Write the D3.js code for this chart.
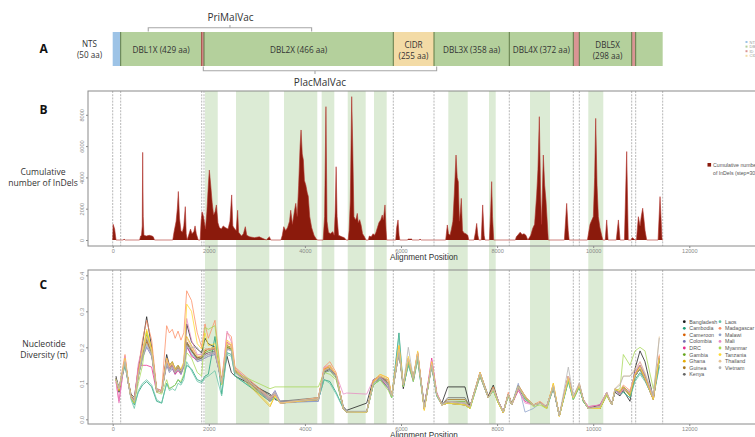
<!DOCTYPE html>
<html>
<head>
<meta charset="utf-8">
<script src="https://cdnjs.cloudflare.com/ajax/libs/d3/7.8.5/d3.min.js"></script>
<style>
body { margin: 0; background: #fff; }
text { font-family: "Liberation Sans", Arial, sans-serif; }
.cal { font-family: "Open Sans", "Noto Sans", sans-serif; }
</style>
</head>
<body>
<div id="chart"></div>
<script>
var width = 755, height = 437;

// domain map (alignment positions of the domain borders)
var domainBreaks = [0, 166, 1852, 1900, 5840, 6687, 8254, 9586, 9711, 10801, 10884, 11446];
var domainFill = ["#9dc3e6", "#b4d09c", "#d99594", "#b4d09c", "#f3dba6", "#b4d09c", "#b4d09c", "#d99594", "#b4d09c", "#d99594", "#b4d09c"];
var domainNames = ["DBL1X (429 aa)", "DBL2X (466 aa)", "DBL3X (358 aa)", "DBL4X (372 aa)"];
var domainNameAt = [1009, 3870, 7470, 8920];

// green shaded regions
var bandStarts = [1921, 2566, 3565, 4349, 4891, 5438, 6985, 7831, 8685, 9898];
var bandEnds = [2186, 3259, 4258, 4612, 5265, 5702, 7388, 7971, 9101, 10210];

var xTicks = [0, 2000, 4000, 6000, 8000, 10000, 12000];
var indelTicks = [0, 2000, 4000, 6000, 8000];
var piTicks = [0, 0.1, 0.2, 0.3, 0.4];

// cumulative number of indels (step = 30)
var indelPos = [0,10,40,70, 220,236,260, 560,580,600,615,624,635,650,700,760,820,845,870,
  1250,1276,1320,1345,1366,1390,1420,1450,1480,1511,1530,1550,1580,1620,1650,1690,1714,1740,1780,
  1820,1840,1860,1890,1930,1960,1990,2011,2040,2070,2100,2130,2158,2190,2220,2260,2300,2340,2400,2440,2476,2500,2540,2570,2600,2620,2680,2720,2760,2790,2850,2950,3050,3150,3200,3240,3260,3290,
  3500,3530,3560,3600,3640,3680,3705,3740,3780,3810,3840,3870,3900,3920,3945,3968,3990,4020,4050,4070,4100,4140,4190,4230,4260,
  4380,4410,4438,4460,4490,4530,4580,4610,4630,4650,4670,4700,4770,4820,4860,
  4900,4920,4945,4974,4995,5020,5050,5070,5090,5110,5140,5170,5200,5240,5270,
  5320,5340,5380,5420,5450,5480,5510,5540,5580,5610,5633,5667,5690,5702,
  5890,5910,5938,5960,5975, 6130,6152,6220,6240, 6380,6395,6420,
  6930,6964,6990,7020,7050,7080,7110,7145,7170,7193,7215,7235,7255,7280,7310,7350,7390,7410,
  7520,7550,7575,7600,7620, 7670,7700,7730,7748, 7840,7865,7887,7905,7930,
  8380,8400,8441,8480,8520,8560,8600,8640,8700,8740,8780,8823,8850,8879,8905,8925,8962,8990,9018,9066,
  9400,9448,9480,9500, 9880,9934,10003,10030,10052,10080,10107,10140,10176,10200,
  10250,10281,10310, 10480,10524,10560, 10650,10697,10730, 10790,10810,10836,10870,
  10900,10940,10975,11000,11030,11060,11079,11114, 11350,11391,11433,11446];
var indelCount = [0,1000,700,0, 0,60,0, 0,250,300,900,5600,1500,300,250,300,250,200,0,
  0,500,1200,2000,3100,1400,600,500,900,2130,400,0,300,700,400,550,900,400,0,
  0,1200,1800,1500,700,1800,3500,4470,3500,2400,1600,1800,2240,1100,800,700,900,800,700,1200,2880,900,700,600,1900,500,250,400,850,300,200,150,200,60,0,150,210,0,
  0,300,850,600,800,1200,1900,1000,1800,2340,1500,3500,6000,7030,5500,5110,3800,3500,3000,2800,1500,800,300,100,0,
  0,1500,8520,1200,500,400,530,300,1800,4680,1500,300,200,150,0,
  0,600,2500,9160,6060,1500,1300,1400,1700,1100,1300,950,400,200,0,
  0,250,200,400,300,500,800,1100,1300,1600,1300,2240,600,0,
  0,800,1280,300,0, 0,60,60,0, 0,60,0,
  0,960,400,300,700,1200,3000,5430,4000,3730,1200,1800,2660,600,450,400,300,0,
  0,500,1060,300,0, 0,2240,300,0, 0,1800,3730,1500,0,
  0,200,350,500,350,400,300,0,300,740,1000,2880,4500,7880,3000,1000,5430,3500,2500,0,
  0,2340,600,0, 0,1000,1500,4000,7770,3500,1500,800,300,0,
  0,1280,0, 0,1280,0, 0,5650,0, 0,150,100,0,
  0,1490,900,1500,2030,1200,600,0, 0,2770,0,0];

// nucleotide diversity, shared positions
var piPos = [69,131,256,325,381,450,533,620,707,811,915,1019,1123,1180,1240,1300,1360,1420,1480,1540,1640,1760,1852,
  1921,1990,2129,2268,2380,2470,2545,3274,3378,3482,4280,4400,4520,4650,4800,4870,5286,5424,5563,5736,
  5806,5958,6048,6152,6256,6347,6485,6639,6743,6850,6972,7332,7436,7644,7817,7921,8025,8129,8233,8303,
  8441,8581,8754,8893,9032,9170,9295,9482,9586,9711,9794,9898,10142,10281,10385,10454,10558,10627,10766,10870,
  10974,11078,11251,11376];

// values in thousandths of pi
var piBangladesh = [120,75,160,105,70,60,140,210,285,200,80,75,180,150,160,140,150,135,155,265,215,195,185,225,210,200,105,175,130,120,70,55,50,55,130,140,120,35,25,45,110,120,100,65,190,85,160,120,175,40,150,70,45,90,90,35,130,65,95,50,20,70,45,85,60,40,45,35,85,10,110,60,90,50,30,40,70,45,75,65,80,50,140,190,160,60,165];
var piCambodia = [110,85,150,100,60,40,75,95,105,90,50,45,100,85,90,95,110,100,120,150,140,110,105,120,125,230,70,185,180,120,50,60,45,55,110,105,75,30,20,20,95,110,90,60,240,90,150,110,165,30,150,65,40,45,40,30,120,60,80,45,20,65,40,90,55,40,45,30,90,10,105,55,90,50,30,30,70,40,80,70,75,60,110,130,110,60,150];
var piCameroon = [110,80,165,100,65,50,125,180,215,180,80,75,165,140,155,135,145,130,150,215,195,170,175,190,195,200,100,205,200,135,50,70,45,55,140,145,125,30,20,20,105,120,105,65,195,95,165,110,180,30,155,70,40,45,40,35,125,60,85,50,18,70,40,90,65,40,45,35,95,10,115,60,95,55,30,30,70,40,80,75,90,70,120,140,110,55,170];
var piColombia = [115,90,160,105,65,55,120,170,200,175,85,80,150,130,140,125,140,125,145,200,180,160,165,170,175,180,110,195,195,130,60,80,50,50,135,140,120,30,22,22,100,115,110,65,185,95,160,105,175,30,150,70,40,50,45,35,125,60,85,50,20,70,40,90,60,40,45,35,90,10,115,60,95,55,30,30,70,40,80,75,85,70,120,140,110,55,170];
var piDRC = [105,50,170,100,60,50,145,150,150,145,75,80,170,150,145,125,135,125,150,205,175,165,170,185,180,185,105,215,205,140,55,70,45,55,140,150,120,30,20,20,100,115,85,65,190,95,165,110,185,30,170,75,40,45,40,35,120,60,85,50,20,70,40,80,50,40,45,35,90,10,120,60,95,55,35,40,75,40,80,70,85,70,125,150,120,60,175];
var piGambia = [110,85,160,105,60,50,120,175,235,190,80,75,160,135,150,130,140,130,150,210,190,165,170,185,190,195,100,200,195,135,55,70,45,55,130,135,115,30,20,20,100,115,95,65,195,95,165,110,180,30,155,70,40,50,50,35,125,60,85,50,18,70,40,95,65,40,45,35,90,10,115,60,95,55,30,30,70,40,80,75,90,65,120,140,110,60,165];
var piGhana = [110,80,165,105,60,45,125,185,245,195,80,75,165,145,155,135,145,135,150,230,205,175,175,195,195,200,100,210,205,135,35,65,45,55,135,145,125,30,20,20,105,120,110,65,200,95,170,115,185,25,155,70,40,45,40,30,130,60,85,45,18,70,40,90,60,40,45,30,100,8,115,60,95,55,30,30,70,40,85,75,85,65,120,140,110,55,170];
var piGuinea = [115,85,160,105,65,50,120,180,220,185,80,75,160,140,150,130,145,130,150,210,190,170,175,190,195,195,105,200,195,135,60,70,45,60,135,140,120,30,20,20,100,115,100,65,185,95,160,110,180,30,150,70,40,55,55,35,125,60,90,50,20,70,40,90,60,40,45,35,90,10,115,60,95,55,30,30,70,40,80,75,85,70,120,140,115,55,170];
var piKenya = [115,80,160,100,65,50,125,180,225,185,80,75,160,140,150,135,145,130,150,215,190,170,170,180,185,190,100,205,195,135,65,70,50,60,135,140,120,30,20,22,100,115,100,65,190,95,165,110,180,35,155,70,40,60,60,35,125,60,85,50,20,70,40,85,60,40,45,35,90,10,120,60,95,55,30,35,70,40,80,75,90,75,125,150,120,60,170];
var piLaos = [110,85,150,100,55,30,80,100,110,95,55,45,100,80,85,80,100,95,110,160,135,105,100,115,120,135,65,180,175,120,55,60,45,55,110,100,70,30,20,20,95,110,85,60,230,90,150,105,165,30,145,65,40,45,40,30,120,60,80,45,20,65,40,95,55,40,45,30,85,10,105,55,90,50,30,30,70,40,80,70,75,60,105,125,105,60,145];
var piMadagascar = [105,85,180,105,65,50,140,220,275,220,85,80,260,240,250,225,245,220,240,357,330,240,200,265,225,275,105,240,230,145,60,75,45,60,145,160,130,30,20,20,105,125,115,65,205,95,170,115,185,30,160,70,40,50,45,35,130,60,90,50,20,75,40,95,65,40,50,35,95,10,120,60,100,55,30,35,75,40,85,80,95,80,125,150,115,60,180];
var piMalawi = [110,85,160,100,60,50,120,170,205,180,80,75,155,135,145,130,140,125,145,205,185,165,165,175,180,185,105,195,190,130,50,75,45,50,130,135,120,30,20,20,100,115,95,65,185,95,160,110,175,30,150,70,40,50,45,35,125,60,85,50,20,70,40,100,20,30,45,35,90,10,115,60,95,55,30,30,70,40,80,75,85,70,120,140,110,55,170];
var piMali = [105,45,175,100,60,50,155,200,230,190,80,75,165,140,150,130,140,135,155,280,220,180,180,195,195,195,100,245,215,140,55,70,45,55,145,150,125,70,73,70,110,120,90,65,190,95,165,110,185,30,165,75,40,45,40,35,125,60,85,50,20,70,40,85,45,40,45,35,90,10,120,60,95,55,35,40,75,40,80,70,85,75,130,160,125,60,175];
var piMyanmar = [110,85,160,105,60,45,100,150,240,185,75,70,110,85,90,95,110,105,125,185,170,130,120,255,250,260,95,205,195,130,85,90,90,90,130,125,110,30,20,20,95,110,80,60,190,90,160,105,170,30,150,70,40,45,40,30,120,60,80,45,20,65,40,90,60,35,40,30,90,10,110,55,90,50,30,30,65,40,80,85,180,150,190,200,190,85,165];
var piTanzania = [110,80,170,105,60,50,125,190,250,195,80,75,170,150,160,140,150,140,160,320,300,210,195,240,205,210,100,220,210,140,40,65,45,55,140,150,125,30,20,20,105,125,115,65,205,95,175,115,190,25,160,70,40,45,40,30,130,60,85,45,18,70,40,90,60,40,45,30,100,8,115,60,95,55,30,30,70,40,85,75,90,70,125,145,115,55,175];
var piThailand = [110,85,165,105,60,50,125,185,230,190,80,75,165,145,155,135,145,135,150,225,200,175,175,195,195,200,100,210,205,135,60,70,45,60,135,145,125,30,20,20,100,120,110,65,195,95,170,115,185,30,155,70,40,50,45,35,130,60,85,50,20,70,40,90,65,40,45,35,95,10,120,60,100,55,30,35,75,40,85,100,120,120,140,160,130,65,230];
var piVietnam = [110,85,160,100,60,50,120,175,210,180,80,75,155,135,145,130,140,130,150,200,200,200,180,175,180,185,100,195,190,130,60,75,50,55,135,140,120,30,20,22,100,115,100,65,185,95,200,115,175,35,150,70,40,50,45,35,125,60,85,50,20,70,40,90,60,40,45,35,90,10,145,65,100,55,30,35,75,40,85,95,120,120,135,150,125,65,226];

var countries = ["Bangladesh", "Cambodia", "Cameroon", "Colombia", "DRC", "Gambia", "Ghana", "Guinea", "Kenya",
  "Laos", "Madagascar", "Malawi", "Mali", "Myanmar", "Tanzania", "Thailand", "Vietnam"];
var countryColors = ["#1a1a1a", "#1b9e77", "#d95f02", "#7570b3", "#e7298a", "#66a61e", "#e6ab02", "#a6761d", "#666666",
  "#66c2a5", "#fc8d62", "#8da0cb", "#e78ac3", "#a6d854", "#ffd92f", "#e5c494", "#b3b3b3"];
var piSeries = [piBangladesh, piCambodia, piCameroon, piColombia, piDRC, piGambia, piGhana, piGuinea, piKenya,
  piLaos, piMadagascar, piMalawi, piMali, piMyanmar, piTanzania, piThailand, piVietnam];

var svg = d3.select("#chart").append("svg")
    .attr("width", width)
    .attr("height", height);

var x = d3.scaleLinear().domain([0, 12000]).range([112.7, 689.3]);
var yB = d3.scaleLinear().domain([0, 8000]).range([240, 114.8]);
var yC = d3.scaleLinear().domain([0, 0.4]).range([419.3, 275.3]);

// shaded regions run through panels B and C
svg.append("g").selectAll("rect")
    .data(bandStarts)
  .enter().append("rect")
    .attr("x", function(d) { return x(d); })
    .attr("width", function(d, i) { return x(bandEnds[i]) - x(d); })
    .attr("y", 91)
    .attr("height", 333)
    .attr("fill", "#dcebd5");

// ---- panel A
var gA = svg.append("g");

gA.selectAll(".dom")
    .data(domainFill)
  .enter().append("rect")
    .attr("x", function(d, i) { return x(domainBreaks[i]); })
    .attr("width", function(d, i) { return x(domainBreaks[i + 1]) - x(domainBreaks[i]); })
    .attr("y", 32)
    .attr("height", 34)
    .attr("fill", function(d) { return d; });

gA.selectAll(".sep")
    .data(domainBreaks.slice(1, -1))
  .enter().append("line")
    .attr("x1", function(d) { return x(d); })
    .attr("x2", function(d) { return x(d); })
    .attr("y1", 32).attr("y2", 66)
    .attr("stroke", function(d) { return d == 1852 ? "#a0413a" : "#5e7a45"; })
    .attr("stroke-width", 1);

gA.selectAll(".dname")
    .data(domainNames)
  .enter().append("text")
    .attr("class", "cal")
    .attr("x", function(d, i) { return x(domainNameAt[i]); })
    .attr("y", 53)
    .attr("text-anchor", "middle")
    .attr("font-size", 8.2)
    .attr("fill", "#333333")
    .text(function(d) { return d; });

function twoLine(cx, y1, y2, a, b) {
  gA.append("text").attr("class", "cal").attr("x", cx).attr("y", y1)
      .attr("text-anchor", "middle").attr("font-size", 8.1).attr("fill", "#333333").text(a);
  gA.append("text").attr("class", "cal").attr("x", cx).attr("y", y2)
      .attr("text-anchor", "middle").attr("font-size", 8.1).attr("fill", "#333333").text(b);
}
twoLine(89.5, 47, 58, "NTS", "(50 aa)");
twoLine(x(6260), 47.5, 58.5, "CIDR", "(255 aa)");
twoLine(x(10300), 47.5, 58.5, "DBL5X", "(298 aa)");

// brackets
var brk = "#a6a6a6";
gA.append("path")
    .attr("d", "M" + x(740) + ",31.5V27.7H" + x(4140) + "V31.5M" + x(2440) + ",27.7V25")
    .attr("fill", "none").attr("stroke", brk).attr("stroke-width", 1.1);
gA.append("path")
    .attr("d", "M" + x(1886) + ",66.5V70.7H" + x(6742) + "V66.5M" + x(4210) + ",70.7V74")
    .attr("fill", "none").attr("stroke", brk).attr("stroke-width", 1.1);
gA.append("text").attr("class", "cal").attr("x", 230.5).attr("y", 20.5)
    .attr("text-anchor", "middle").attr("font-size", 10).attr("fill", "#333333").text("PriMalVac");
gA.append("text").attr("class", "cal").attr("x", 320).attr("y", 86)
    .attr("text-anchor", "middle").attr("font-size", 10).attr("fill", "#333333").text("PlacMalVac");

// panel letters and y titles
[["A", 53], ["B", 113.5], ["C", 289]].forEach(function(p) {
  svg.append("text").attr("class", "cal").attr("x", 39.5).attr("y", p[1])
      .attr("font-size", 12).attr("font-weight", "bold").attr("fill", "#111").text(p[0]);
});
function yTitle(cx, y1, y2, a, b) {
  svg.append("text").attr("class", "cal").attr("x", cx).attr("y", y1)
      .attr("text-anchor", "middle").attr("font-size", 8.6).attr("fill", "#333333").text(a);
  svg.append("text").attr("class", "cal").attr("x", cx).attr("y", y2)
      .attr("text-anchor", "middle").attr("font-size", 8.6).attr("fill", "#333333").text(b);
}
yTitle(43, 175, 185.5, "Cumulative", "number of InDels");
yTitle(44, 347, 358, "Nucleotide", "Diversity (\u03c0)");

// dashed domain borders in B and C
function borders(y0, y1) {
  svg.append("g").selectAll("line")
      .data(domainBreaks)
    .enter().append("line")
      .attr("x1", function(d) { return x(d); })
      .attr("x2", function(d) { return x(d); })
      .attr("y1", y0).attr("y2", y1)
      .attr("stroke", "#9a9a9a")
      .attr("stroke-width", 0.7)
      .attr("stroke-dasharray", "2,1.2");
}
borders(91, 246);
borders(270, 424);

// frames
svg.append("rect").attr("x", 88).attr("y", 91).attr("width", 700).attr("height", 155)
    .attr("fill", "none").attr("stroke", "#8a8a8a").attr("stroke-width", 1);
svg.append("rect").attr("x", 88).attr("y", 270).attr("width", 700).attr("height", 154)
    .attr("fill", "none").attr("stroke", "#8a8a8a").attr("stroke-width", 1);

function styleAxis(g) {
  g.select(".domain").remove();
  g.selectAll("line").attr("stroke", "#8a8a8a");
  g.selectAll("text").attr("fill", "#8a8a8a").attr("font-size", 5.6)
      .attr("font-family", "Liberation Sans, Arial, sans-serif");
}

// ---- panel B
var indelData = indelPos.map(function(p, i) { return [p, indelCount[i]]; });

svg.append("path")
    .datum(indelData)
    .attr("fill", "#8b1a0c")
    .attr("d", d3.area()
        .x(function(d) { return x(d[0]); })
        .y0(yB(0))
        .y1(function(d) { return yB(d[1]); }));
svg.append("path")
    .datum(indelData)
    .attr("fill", "none")
    .attr("stroke", "#b0302a")
    .attr("stroke-width", 0.6)
    .attr("d", d3.line()
        .x(function(d) { return x(d[0]); })
        .y(function(d) { return yB(d[1]); }));

var axB = svg.append("g").attr("transform", "translate(0,246)")
    .call(d3.axisBottom(x).tickValues(xTicks).tickSize(2).tickPadding(1).tickFormat(d3.format("d")));
styleAxis(axB);
var ayB = svg.append("g").attr("transform", "translate(88,0)")
    .call(d3.axisLeft(yB).tickValues(indelTicks).tickSize(2).tickFormat(d3.format("d")));
styleAxis(ayB);
ayB.selectAll("text").attr("transform", "rotate(-90)").attr("x", 0).attr("y", -4.5)
    .attr("dy", 0).attr("text-anchor", "middle");

svg.append("text").attr("x", 390).attr("y", 259.5).attr("font-size", 8.2).attr("fill", "#333333")
    .text("Alignment Position");

// legend B
svg.append("rect").attr("x", 707.5).attr("y", 163).attr("width", 3.6).attr("height", 3.6).attr("fill", "#8b1a0c");
svg.append("text").attr("x", 713).attr("y", 167).attr("font-size", 5.2).attr("fill", "#555").text("Cumulative number");
svg.append("text").attr("x", 713).attr("y", 174.5).attr("font-size", 5.2).attr("fill", "#555").text("of InDels (step=30)");

// ---- panel C
var line = d3.line()
    .x(function(d, i) { return x(piPos[i]); })
    .y(function(d) { return yC(d / 1000); });

svg.append("g").selectAll("path")
    .data(piSeries)
  .enter().append("path")
    .attr("fill", "none")
    .attr("stroke", function(d, i) { return countryColors[i]; })
    .attr("stroke-width", 0.9)
    .attr("stroke-opacity", 0.85)
    .attr("d", line);

var axC = svg.append("g").attr("transform", "translate(0,424)")
    .call(d3.axisBottom(x).tickValues(xTicks).tickSize(2).tickPadding(1).tickFormat(d3.format("d")));
styleAxis(axC);
var ayC = svg.append("g").attr("transform", "translate(88,0)")
    .call(d3.axisLeft(yC).tickValues(piTicks).tickSize(2).tickFormat(d3.format(".1f")));
styleAxis(ayC);
ayC.selectAll("text").attr("transform", "rotate(-90)").attr("x", 0).attr("y", -4.5)
    .attr("dy", 0).attr("text-anchor", "middle");

svg.append("text").attr("x", 390).attr("y", 437.5).attr("font-size", 8.2).attr("fill", "#333333")
    .text("Alignment Position");

// legend C
var legC = svg.append("g").selectAll("g")
    .data(countries)
  .enter().append("g")
    .attr("transform", function(d, i) {
      return "translate(" + (i < 9 ? 684.3 : 720) + "," + (321.7 + (i % 9) * 6.58) + ")";
    });
legC.append("circle").attr("r", 1.4).attr("fill", function(d, i) { return countryColors[i]; });
legC.append("text").attr("x", 5).attr("y", 1.9).attr("font-size", 5.3).attr("fill", "#555")
    .text(function(d) { return d; });

// legend A (cut at the right edge)
var legA = ["NTS", "DBL", "ID", "CIDR"];
var legAColors = ["#9dc3e6", "#b4d09c", "#d99594", "#f3dba6"];
svg.append("g").selectAll("g")
    .data(legA)
  .enter().append("g")
    .attr("transform", function(d, i) { return "translate(746.5," + (42 + i * 4.6) + ")"; })
    .each(function(d, i) {
      d3.select(this).append("rect").attr("x", -1).attr("y", -1).attr("width", 2).attr("height", 2)
          .attr("fill", legAColors[i]);
      d3.select(this).append("text").attr("x", 3).attr("y", 1.5).attr("font-size", 4)
          .attr("fill", "#999").text(d);
    });
</script>
</body>
</html>
